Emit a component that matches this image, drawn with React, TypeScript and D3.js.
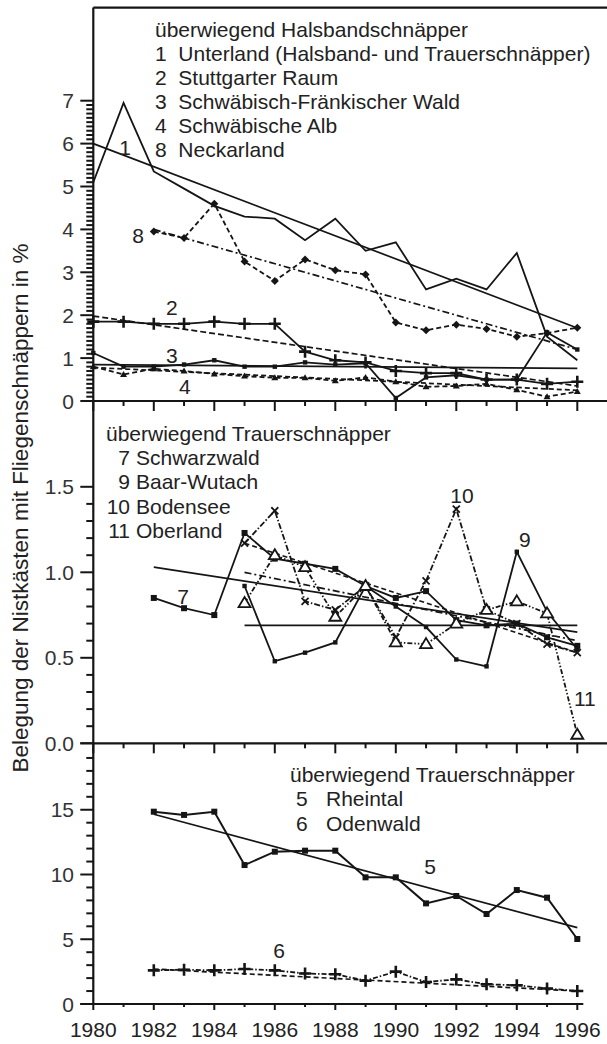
import React from "react";
import * as d3 from "d3";

// ---- data ----
const yearsAll = [1980, 1981, 1982, 1983, 1984, 1985, 1986, 1987, 1988, 1989, 1990, 1991, 1992, 1993, 1994, 1995, 1996];
const years82 = [1982, 1983, 1984, 1985, 1986, 1987, 1988, 1989, 1990, 1991, 1992, 1993, 1994, 1995, 1996];
const years85 = [1985, 1986, 1987, 1988, 1989, 1990, 1991, 1992, 1993, 1994, 1995, 1996];

// top panel: überwiegend Halsbandschnäpper
const unterland = [5.1, 6.95, 5.35, 4.95, 4.55, 4.3, 4.25, 3.75, 4.25, 3.5, 3.7, 2.6, 2.85, 2.6, 3.45, 1.5, 0.95];
const stuttgart = [1.85, 1.85, 1.8, 1.8, 1.85, 1.8, 1.8, 1.15, 0.95, 0.9, 0.7, 0.65, 0.65, 0.5, 0.5, 0.4, 0.45];
const sfWald = [1.12, 0.8, 0.8, 0.85, 0.95, 0.8, 0.8, 0.9, 0.85, 0.88, 0.07, 0.55, 0.6, 0.5, 0.5, 1.6, 1.2];
const alb = [0.8, 0.62, 0.75, 0.7, 0.63, 0.58, 0.54, 0.54, 0.47, 0.55, 0.45, 0.33, 0.35, 0.4, 0.26, 0.1, 0.22];
const neckarland = [3.95, 3.8, 4.6, 3.25, 2.8, 3.3, 3.05, 2.95, 1.83, 1.65, 1.78, 1.68, 1.5, 1.58, 1.71];

// middle panel: überwiegend Trauerschnäpper
const schwarzwald = [0.85, 0.79, 0.75, 1.23, 1.08, 1.05, 1.02, 0.92, 0.85, 0.89, 0.72, 0.69, 0.7, 0.62, 0.57];
const baarWutach = [0.92, 0.48, 0.53, 0.59, 0.92, 0.8, 0.68, 0.49, 0.45, 1.12, 0.77, 0.55];
const bodensee = [1.17, 1.36, 0.83, 0.78, 0.92, 0.62, 0.95, 1.37, 0.78, 0.7, 0.58, 0.53];
const oberland = [0.82, 1.1, 1.03, 0.74, 0.92, 0.59, 0.58, 0.7, 0.78, 0.83, 0.76, 0.05];

// bottom panel
const rheintal = [14.85, 14.6, 14.85, 10.73, 11.76, 11.84, 11.84, 9.78, 9.78, 7.77, 8.34, 6.95, 8.8, 8.21, 5.02];
const odenwald = [2.6, 2.65, 2.6, 2.7, 2.6, 2.35, 2.3, 1.8, 2.5, 1.7, 1.9, 1.52, 1.45, 1.2, 1.0];

// regression lines: [[startYear, startVal], [endYear, endVal]]
const trendTop = [
  {id: "t1", pts: [[1980, 6.0], [1996, 1.7]], dash: ""},
  {id: "t8", pts: [[1982, 4.0], [1996, 1.2]], dash: "7,3,2,3"},
  {id: "t2", pts: [[1980, 1.98], [1996, 0.35]], dash: "6,3"},
  {id: "t3", pts: [[1980, 0.85], [1996, 0.76]], dash: ""},
  {id: "t4", pts: [[1980, 0.78], [1996, 0.25]], dash: "5,3"},
];
const trendMid = [
  {id: "t7", pts: [[1982, 1.03], [1996, 0.65]], dash: ""},
  {id: "t9", pts: [[1985, 0.69], [1996, 0.69]], dash: ""},
  {id: "t10", pts: [[1985, 1.0], [1996, 0.6]], dash: "7,3,2,3"},
  {id: "t11", pts: [[1985, 1.17], [1996, 0.53]], dash: "5,3"},
];
const trendBot = [
  {id: "t5", pts: [[1982, 14.65], [1996, 5.9]], dash: ""},
  {id: "t6", pts: [[1982, 2.7], [1996, 1.0]], dash: "5,3"},
];

const legendTop = ["1  Unterland (Halsband- und Trauerschnäpper)", "2  Stuttgarter Raum", "3  Schwäbisch-Fränkischer Wald", "4  Schwäbische Alb", "8  Neckarland"];
const legendMidNums = ["7", "9", "10", "11"];
const legendMidNames = ["Schwarzwald", "Baar-Wutach", "Bodensee", "Oberland"];
const legendBotNums = ["5", "6"];
const legendBotNames = ["Rheintal", "Odenwald"];

const FONT = "'Liberation Sans', Arial, sans-serif";
const INK = "#151515";

const x = d3.scaleLinear().domain([1980, 1996]).range([93.3, 577.3]);
const yTop = d3.scaleLinear().domain([0, 7]).range([401, 100.7]);
const yMid = d3.scaleLinear().domain([0, 1.5]).range([743.3, 486.8]);
const yBot = d3.scaleLinear().domain([0, 15]).range([1004, 809.75]);

type Marker = "none" | "square" | "diamond" | "plus" | "tri" | "triOpen" | "x" | "dot";

function MarkerShape({kind, cx, cy}: {kind: Marker; cx: number; cy: number}) {
  switch (kind) {
    case "square":
      return <rect x={cx - 3} y={cy - 3} width={6} height={6} fill={INK} />;
    case "dot":
      return <rect x={cx - 2.2} y={cy - 2.2} width={4.4} height={4.4} fill={INK} />;
    case "diamond":
      return <path d={`M${cx},${cy - 4}L${cx + 4},${cy}L${cx},${cy + 4}L${cx - 4},${cy}Z`} fill={INK} />;
    case "plus":
      return <path d={`M${cx - 6},${cy}H${cx + 6}M${cx},${cy - 6}V${cy + 6}`} stroke={INK} strokeWidth={2.6} />;
    case "tri":
      return <path d={`M${cx},${cy - 3.5}L${cx + 3.5},${cy + 2.5}L${cx - 3.5},${cy + 2.5}Z`} fill={INK} />;
    case "triOpen":
      return <path d={`M${cx},${cy - 6}L${cx + 6},${cy + 4}L${cx - 6},${cy + 4}Z`} fill="white" stroke={INK} strokeWidth={1.8} />;
    case "x":
      return <path d={`M${cx - 3.5},${cy - 3.5}L${cx + 3.5},${cy + 3.5}M${cx + 3.5},${cy - 3.5}L${cx - 3.5},${cy + 3.5}`} stroke={INK} strokeWidth={1.8} />;
    default:
      return null;
  }
}

function Series({xs, vals, y, dash, marker, width}: {xs: number[]; vals: number[]; y: d3.ScaleLinear<number, number>; dash: string; marker: Marker; width?: number}) {
  const pts = xs.map((yr, i) => [yr, vals[i]] as [number, number]);
  const line = d3.line<[number, number]>().x(d => x(d[0])).y(d => y(d[1]));
  return (
    <g>
      <path d={line(pts) || ""} fill="none" stroke={INK} strokeWidth={width ?? 1.8} strokeDasharray={dash || undefined} strokeLinejoin="miter" />
      {pts.map((p, i) => <MarkerShape key={i} kind={marker} cx={x(p[0])} cy={y(p[1])} />)}
    </g>
  );
}

function Trends({list, y}: {list: {id: string; pts: number[][]; dash: string}[]; y: d3.ScaleLinear<number, number>}) {
  return (
    <g>
      {list.map(t => (
        <line key={t.id} x1={x(t.pts[0][0])} y1={y(t.pts[0][1])} x2={x(t.pts[1][0])} y2={y(t.pts[1][1])}
              stroke={INK} strokeWidth={1.7} strokeDasharray={t.dash || undefined} />
      ))}
    </g>
  );
}

function YTicks({y, vals, isMajor, fmt}: {y: d3.ScaleLinear<number, number>; vals: number[]; isMajor: (v: number) => boolean; fmt: (v: number) => string}) {
  const x0 = x(1980);
  return (
    <g>
      {vals.map((v, i) => {
        const major = isMajor(v);
        return (
          <g key={i}>
            <line x1={x0} x2={x0 - (major ? 13 : 7)} y1={y(v)} y2={y(v)} stroke={INK} strokeWidth={2} />
            {major && <text x={74} y={y(v)} dy="0.36em" textAnchor="end" fontSize={21} fontFamily={FONT} fill="#333">{fmt(v)}</text>}
          </g>
        );
      })}
    </g>
  );
}

function XTicks({y0, big, small}: {y0: number; big: number; small: number}) {
  return (
    <g>
      {yearsAll.map(yr => (
        <line key={yr} x1={x(yr)} x2={x(yr)} y1={y0} y2={y0 + (yr % 2 === 0 ? big : small)} stroke={INK} strokeWidth={2} />
      ))}
    </g>
  );
}

export default function App() {
  const topVals = d3.range(0, 71).map(i => i / 10);
  const midVals = d3.range(0, 16).map(i => i / 10);
  const botVals = d3.range(0, 20);
  const frameTop = yTop(9.17);
  const txt = {fontFamily: FONT, fontSize: 21, fill: "#222"};

  return (
    <div style={{position: "absolute", left: 0, top: 0}}>
      <svg width={607} height={1044} style={{display: "block", background: "white"}}>
        {/* frame and axes */}
        <line x1={x(1980)} x2={607} y1={frameTop} y2={frameTop} stroke={INK} strokeWidth={2.2} />
        <line x1={x(1980)} x2={x(1980)} y1={frameTop} y2={yBot(0)} stroke={INK} strokeWidth={2.2} />
        <line x1={x(1980)} x2={607} y1={yTop(0)} y2={yTop(0)} stroke={INK} strokeWidth={2.2} />
        <line x1={x(1980)} x2={607} y1={yMid(0)} y2={yMid(0)} stroke={INK} strokeWidth={2.2} />
        <line x1={x(1980) - 13} x2={x(1996) + 6} y1={yBot(0)} y2={yBot(0)} stroke={INK} strokeWidth={2.2} />

        <YTicks y={yTop} vals={topVals} isMajor={v => Math.abs(v - Math.round(v)) < 1e-6} fmt={d3.format("d")} />
        <YTicks y={yMid} vals={midVals} isMajor={v => Math.abs(v * 2 - Math.round(v * 2)) < 1e-6} fmt={d3.format(".1f")} />
        <YTicks y={yBot} vals={botVals} isMajor={v => v % 5 === 0} fmt={d3.format("d")} />
        <line x1={x(1980)} x2={x(1980) - 13} y1={yMid(0)} y2={yMid(0)} stroke={INK} strokeWidth={2} />

        <XTicks y0={yTop(0)} big={10} small={5} />
        <XTicks y0={yMid(0)} big={10} small={5} />
        <XTicks y0={yBot(0)} big={6} small={3} />

        {yearsAll.filter(yr => yr % 2 === 0).map(yr => (
          <text key={yr} x={x(yr)} y={1037} textAnchor="middle" fontSize={21} fontFamily={FONT} fill="#222">{yr}</text>
        ))}

        <text transform="translate(20,508) rotate(-90)" textAnchor="middle" dy="0.36em" fontSize={22.5} fontFamily={FONT} fill="#222">
          Belegung der Nistkästen mit Fliegenschnäppern in %
        </text>

        {/* top panel */}
        <Trends list={trendTop} y={yTop} />
        <Series xs={yearsAll} vals={unterland} y={yTop} dash="" marker="none" />
        <Series xs={years82} vals={neckarland} y={yTop} dash="5,3" marker="diamond" />
        <Series xs={yearsAll} vals={stuttgart} y={yTop} dash="" marker="plus" />
        <Series xs={yearsAll} vals={sfWald} y={yTop} dash="" marker="dot" />
        <Series xs={yearsAll} vals={alb} y={yTop} dash="5,3" marker="tri" />

        <text x={155} y={37} {...txt}>überwiegend Halsbandschnäpper</text>
        {legendTop.map((s, i) => (
          <text key={s} x={155} y={61 + i * 24} {...txt} xmlSpace="preserve">{s}</text>
        ))}
        <text x={x(1981.05)} y={yTop(5.92)} dy="0.36em" textAnchor="middle" {...txt}>1</text>
        <text x={x(1981.48)} y={yTop(3.87)} dy="0.36em" textAnchor="middle" {...txt}>8</text>
        <text x={x(1982.6)} y={yTop(2.17)} dy="0.36em" textAnchor="middle" {...txt}>2</text>
        <text x={x(1982.6)} y={yTop(1.07)} dy="0.36em" textAnchor="middle" {...txt}>3</text>
        <text x={x(1983.03)} y={yTop(0.33)} dy="0.36em" textAnchor="middle" {...txt}>4</text>

        {/* middle panel */}
        <Trends list={trendMid} y={yMid} />
        <Series xs={years82} vals={schwarzwald} y={yMid} dash="" marker="square" />
        <Series xs={years85} vals={baarWutach} y={yMid} dash="" marker="dot" />
        <Series xs={years85} vals={bodensee} y={yMid} dash="6,2,1.5,2" marker="x" />
        <Series xs={years85} vals={oberland} y={yMid} dash="5,2,1.5,2,1.5,2" marker="triOpen" />

        <text x={106} y={441} {...txt}>überwiegend Trauerschnäpper</text>
        {legendMidNums.map((n, i) => (
          <g key={n}>
            <text x={130} y={465 + i * 24.3} textAnchor="end" {...txt}>{n}</text>
            <text x={136} y={465 + i * 24.3} {...txt}>{legendMidNames[i]}</text>
          </g>
        ))}
        <text x={x(1982.97)} y={yMid(0.856)} dy="0.36em" textAnchor="middle" {...txt}>7</text>
        <text x={x(1992.19)} y={yMid(1.45)} dy="0.36em" textAnchor="middle" {...txt}>10</text>
        <text x={x(1994.27)} y={yMid(1.19)} dy="0.36em" textAnchor="middle" {...txt}>9</text>
        <text x={x(1996.25)} y={yMid(0.265)} dy="0.36em" textAnchor="middle" {...txt}>11</text>

        {/* bottom panel */}
        <Trends list={trendBot} y={yBot} />
        <Series xs={years82} vals={rheintal} y={yBot} dash="" marker="square" width={2} />
        <Series xs={years82} vals={odenwald} y={yBot} dash="5,2,1.5,2" marker="plus" />

        <text x={290} y={782} {...txt}>überwiegend Trauerschnäpper</text>
        {legendBotNums.map((n, i) => (
          <g key={n}>
            <text x={296} y={806 + i * 24.5} {...txt}>{n}</text>
            <text x={326} y={806 + i * 24.5} {...txt}>{legendBotNames[i]}</text>
          </g>
        ))}
        <text x={x(1991.13)} y={yBot(10.66)} dy="0.36em" textAnchor="middle" {...txt}>5</text>
        <text x={x(1986.14)} y={yBot(4.17)} dy="0.36em" textAnchor="middle" {...txt}>6</text>
      </svg>
    </div>
  );
}
